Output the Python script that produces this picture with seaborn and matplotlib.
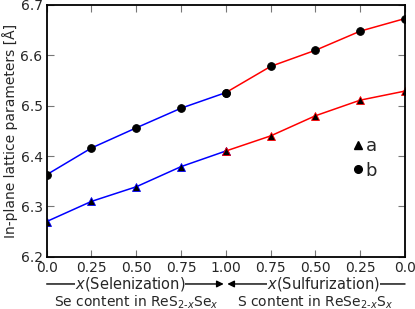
import numpy as np
import pandas as pd
import matplotlib
matplotlib.use('Agg')
import matplotlib.pyplot as plt
import seaborn as sns
from matplotlib.lines import Line2D

# composition steps: selenization 0 -> 1, then sulfurization 1 -> 0
tick_labels = ['0.0', '0.25', '0.50', '0.75', '1.00', '0.75', '0.50', '0.25', '0.0']
lat_a = [6.270, 6.310, 6.339, 6.379, 6.410, 6.440, 6.480, 6.511, 6.529]
lat_b = [6.363, 6.416, 6.456, 6.495, 6.526, 6.578, 6.610, 6.648, 6.673]

pos = np.arange(len(tick_labels))
df = pd.DataFrame({'pos': pos, 'a': lat_a, 'b': lat_b})
sel = df[df.pos <= 4]
sul = df[df.pos >= 4]

sns.set_style('ticks')
fig = plt.figure(figsize=(4.15, 3.09), dpi=100)
ax = fig.add_axes([0.1125, 0.169, 0.8635, 0.815])

for part, col in [(sel, 'blue'), (sul, 'red')]:
    sns.lineplot(data=part, x='pos', y='a', color=col, lw=1.1, marker='^', ms=5.5,
                 markerfacecolor='black', markeredgecolor=col, markeredgewidth=0.6, ax=ax)
    sns.lineplot(data=part, x='pos', y='b', color=col, lw=1.1, marker='o', ms=5.5,
                 markerfacecolor='black', markeredgecolor='black', ax=ax)

ax.set_xlim(0, 8)
ax.set_ylim(6.2, 6.7)
ax.set_xticks(pos)
ax.set_xticklabels(tick_labels, fontsize=10)
ax.set_yticks([6.2, 6.3, 6.4, 6.5, 6.6, 6.7])
ax.set_yticklabels(['6.2', '6.3', '6.4', '6.5', '6.6', '6.7'], fontsize=10)
ax.tick_params(direction='in', top=True, right=True, length=5, color='#777777', pad=3)
ax.set_xlabel('')
ax.set_ylabel('In-plane lattice parameters [Å]', fontsize=10, labelpad=2)
for s in ax.spines.values():
    s.set_linewidth(1.3)
    s.set_color('black')

handles = [Line2D([], [], ls='none', marker='^', color='black', ms=5.5),
           Line2D([], [], ls='none', marker='o', color='black', ms=5.5)]
ax.legend(handles, ['a', 'b'], frameon=False, fontsize=13, handlelength=0.5,
          handletextpad=0.2, labelspacing=0.35, loc='center left',
          bbox_to_anchor=(0.81, 0.39))

# arrows under the axis
ya = -0.108
ax.annotate('', xy=(0.494, ya), xytext=(0.0, ya), xycoords='axes fraction',
            arrowprops=dict(arrowstyle='-|>', color='black', lw=1, mutation_scale=10,
                            shrinkA=0, shrinkB=0))
ax.annotate('', xy=(0.504, ya), xytext=(1.0, ya), xycoords='axes fraction',
            arrowprops=dict(arrowstyle='-|>', color='black', lw=1, mutation_scale=10,
                            shrinkA=0, shrinkB=0))
box = dict(facecolor='white', edgecolor='none', pad=0)
ax.text(0.232, -0.124, r'$x$(Selenization)', transform=ax.transAxes, ha='center',
        va='baseline', fontsize=10.5, bbox=box, math_fontfamily='dejavusans')
ax.text(0.773, -0.124, r'$x$(Sulfurization)', transform=ax.transAxes, ha='center',
        va='baseline', fontsize=10.5, bbox=box, math_fontfamily='dejavusans')
ax.text(0.25, -0.196, r'Se content in ReS$_{2\text{-}x}$Se$_x$', transform=ax.transAxes,
        ha='center', va='baseline', fontsize=10, math_fontfamily='dejavusans')
ax.text(0.75, -0.196, r'S content in ReSe$_{2\text{-}x}$S$_x$', transform=ax.transAxes,
        ha='center', va='baseline', fontsize=10, math_fontfamily='dejavusans')

fig.savefig('out.png', dpi=100)
